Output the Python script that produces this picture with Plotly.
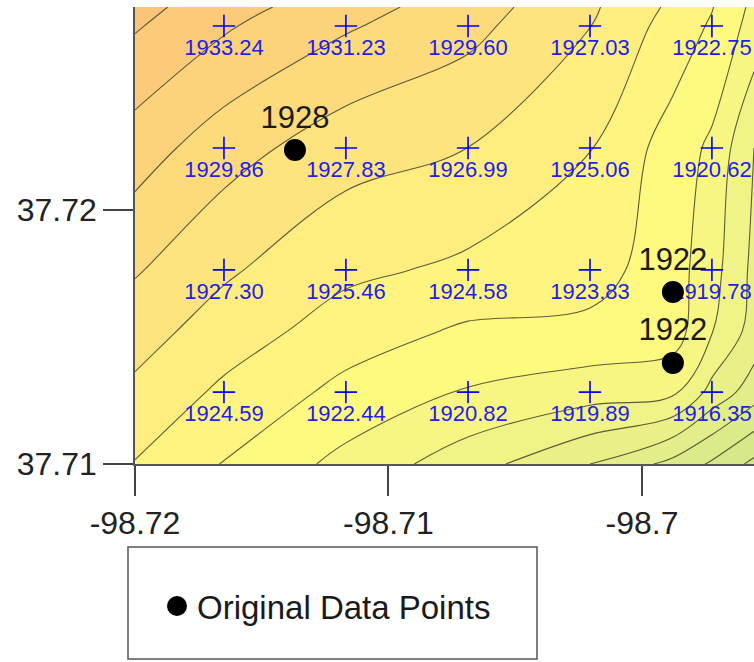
import plotly.graph_objects as go

# ---- grid (estimation points) ----
grid_x = [-98.71649, -98.71168, -98.70686, -98.70205, -98.69724]
grid_y = [37.72724, 37.72244, 37.71764, 37.71283]          # top row first
grid_values = [
    [1933.24, 1931.23, 1929.60, 1927.03, 1922.75],
    [1929.86, 1927.83, 1926.99, 1925.06, 1920.62],
    [1927.30, 1925.46, 1924.58, 1923.83, 1919.78],
    [1924.59, 1922.44, 1920.82, 1919.89, 1916.35],
]

# ---- surface values (edges and one extra row/column) ----
x_left, x_right = -98.72, -98.69558
y_bottom, y_top = 37.71, 37.72799
x_extra = -98.69878            # column through the two 1922 points
y_extra = 37.71524             # row between the two lower grid rows
# column order of the lists below: left edge, 5 grid columns, extra column, right edge
edge_top = [1935.7, 1933.8, 1931.8, 1930.0, 1927.35, 1923.1, 1924.6, 1920.5]
edge_bottom = [1924.9, 1922.9, 1920.4, 1917.9, 1915.0, 1910.7, 1912.4, 1908.5]
row_extra = [1927.8, 1926.1, 1924.0, 1922.7, 1922.5, 1919.1, 1922.0, 1916.2]
# row order of the lists below: same as grid_y
edge_left = [1935.2, 1932.0, 1929.2, 1926.6]
edge_right = [1920.2, 1917.0, 1916.5, 1914.0]
col_extra = [1924.2, 1922.1, 1921.9, 1919.4]

# ---- original data points ----
pts_x = [-98.71369, -98.69878, -98.69878]
pts_y = [37.72236, 37.71677, 37.71398]
pts_val = [1928, 1922, 1922]

# ---- axis ticks ----
x_ticks = [-98.72, -98.71, -98.70]
x_ticktext = ["-98.72", "-98.71", "-98.7"]
y_ticks = [37.71, 37.72]
y_ticktext = ["37.71", "37.72"]

# ---- assemble rectilinear surface ----
cols_x = [x_left] + grid_x + [x_extra, x_right]
order = sorted(range(len(cols_x)), key=lambda k: cols_x[k])
surf_rows = {y_top: edge_top, y_bottom: edge_bottom, y_extra: row_extra}
for i, yv in enumerate(grid_y):
    surf_rows[yv] = [edge_left[i]] + grid_values[i] + [col_extra[i], edge_right[i]]
zy = sorted(surf_rows)
zx = [cols_x[k] for k in order]
zz = [[surf_rows[yv][k] for k in order] for yv in zy]

colorscale = [
    [0.00, "#d0e48a"],
    [0.13, "#d9e98a"],
    [0.27, "#e6ef88"],
    [0.40, "#f4f585"],
    [0.50, "#fff980"],
    [0.60, "#fff17f"],
    [0.70, "#fee47e"],
    [0.80, "#fdd77c"],
    [0.90, "#fbcb7a"],
    [1.00, "#f9c079"],
]

FONT = "Liberation Sans, Arial, sans-serif"

fig = go.Figure()
fig.add_trace(go.Contour(
    x=zx, y=zy, z=zz,
    colorscale=colorscale, zmin=1907, zmax=1937,
    autocontour=False,
    contours=dict(start=1905, end=1939, size=2, coloring="fill"),
    line=dict(color="rgba(55,55,40,0.8)", width=1.1, smoothing=1.0),
    showscale=False, showlegend=False, hoverinfo="skip",
))

# grid crosses
gx, gy, gt = [], [], []
for i, yv in enumerate(grid_y):
    for j, xv in enumerate(grid_x):
        gx.append(xv)
        gy.append(yv)
        gt.append(f"{grid_values[i][j]:.2f}")
fig.add_trace(go.Scatter(
    x=gx, y=gy, mode="markers",
    marker=dict(symbol="cross-thin", size=16, line=dict(color="#0000ff", width=1.6)),
    showlegend=False, hoverinfo="skip",
))
fig.add_trace(go.Scatter(
    x=gx, y=gy, mode="markers+text", text=gt, textposition="bottom center",
    textfont=dict(family=FONT, size=22, color="#1f1fe8"),
    marker=dict(size=18, color="rgba(0,0,0,0)"),
    cliponaxis=False,
    showlegend=False, hoverinfo="skip",
))

# original data points
fig.add_trace(go.Scatter(
    x=pts_x, y=pts_y, mode="markers", name="Original Data Points",
    marker=dict(size=18, color="black", line=dict(color="black", width=4)),
    hoverinfo="skip",
))
fig.add_trace(go.Scatter(
    x=pts_x, y=pts_y, mode="markers+text", text=[str(v) for v in pts_val],
    textposition="top center",
    textfont=dict(family=FONT, size=31, color="#1a1a1a"),
    marker=dict(size=22, color="rgba(0,0,0,0)"),
    showlegend=False, hoverinfo="skip",
))

W, H = 754, 662
L, R, T, B = 135, 0, 7, 198
pw, ph = W - L - R, H - T - B

def px_to_paper(xp, yp):
    return (xp - L) / pw, (H - B - yp) / ph

lx0, ly0 = px_to_paper(128, 547)
lx1, ly1 = px_to_paper(537, 659)
legx, legy = px_to_paper(157, 606)

fig.update_layout(
    width=W, height=H,
    margin=dict(l=L, r=R, t=T, b=B, pad=0),
    paper_bgcolor="white", plot_bgcolor="white",
    font=dict(family=FONT, color="#222222"),
    xaxis=dict(
        range=[x_left, x_right], tickvals=x_ticks, ticktext=x_ticktext,
        ticks="outside", ticklen=30, tickwidth=1.5, tickcolor="#444444",
        showline=True, linecolor="#555555", linewidth=1.5,
        showgrid=False, zeroline=False, tickfont=dict(size=32, family=FONT, color="#222222"),
    ),
    yaxis=dict(
        range=[y_bottom, y_top], tickvals=y_ticks, ticktext=y_ticktext,
        ticks="outside", ticklen=30, tickwidth=1.5, tickcolor="#444444",
        showline=True, linecolor="#555555", linewidth=1.5,
        showgrid=False, zeroline=False, tickfont=dict(size=32, family=FONT, color="#222222"),
    ),
    showlegend=True,
    legend=dict(
        x=legx, y=legy, xanchor="left", yanchor="middle",
        bgcolor="rgba(0,0,0,0)", borderwidth=0,
        font=dict(size=33, family=FONT, color="#1a1a1a"),
        itemsizing="trace",
    ),
    shapes=[dict(
        type="rect", xref="paper", yref="paper",
        x0=lx0, x1=lx1, y0=ly0, y1=ly1,
        line=dict(color="#555555", width=1.5), fillcolor="rgba(0,0,0,0)", layer="above",
    )],
)

fig.write_html(
    "out.html",
    config={"displayModeBar": False},
    post_script="document.body.style.margin='0';document.body.style.padding='0';",
)
